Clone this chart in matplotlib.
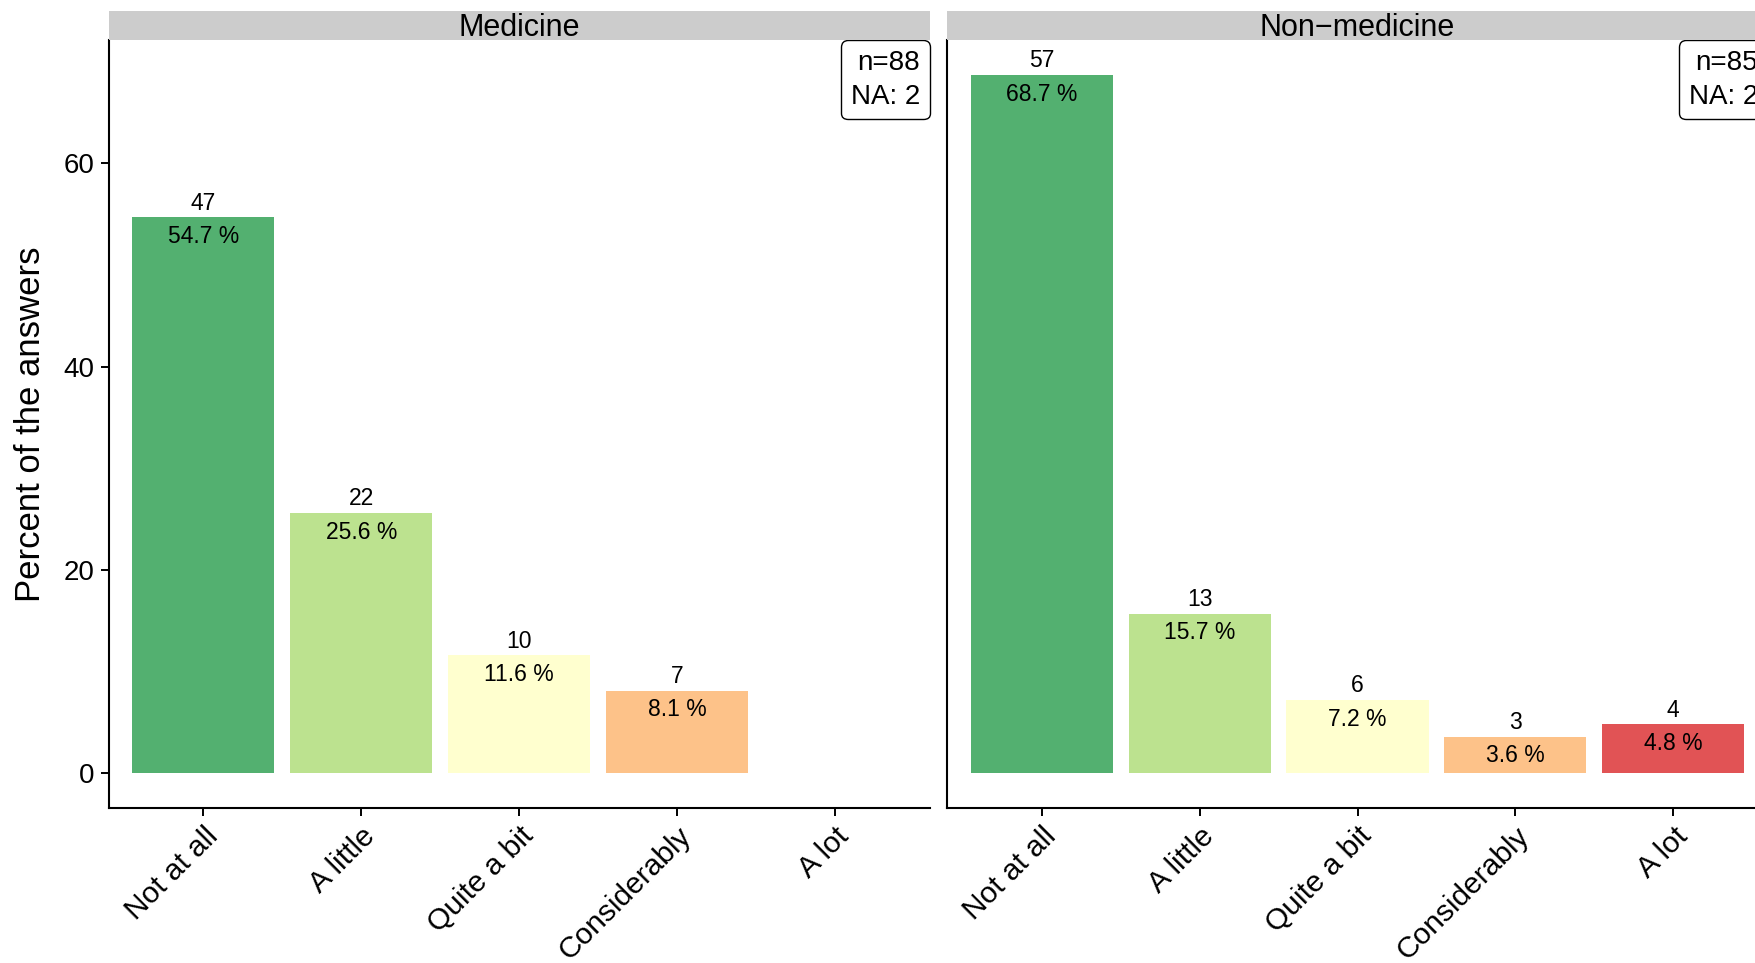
import matplotlib
matplotlib.use("Agg")
import matplotlib.pyplot as plt
from matplotlib.offsetbox import AnchoredText

plt.rcParams['font.family'] = ['Liberation Sans', 'DejaVu Sans']

categories = ["Not at all", "A little", "Quite a bit", "Considerably", "A lot"]
panels = ["Medicine", "Non\u2212medicine"]
counts = {
    "Medicine": [47, 22, 10, 7, 0],
    "Non\u2212medicine": [57, 13, 6, 3, 4],
}
percents = {
    "Medicine": [54.7, 25.6, 11.6, 8.1, 0.0],
    "Non\u2212medicine": [68.7, 15.7, 7.2, 3.6, 4.8],
}
n_labels = {"Medicine": "n=88\nNA: 2", "Non\u2212medicine": "n=85\nNA: 2"}
# RdYlGn (5) at alpha 0.75 on white
colors = ["#53b070", "#bce28f", "#ffffcf", "#fdc289", "#e15355"]

W, H = 1756, 963
fig = plt.figure(figsize=(W / 100, H / 100), dpi=100)

lefts = [108.6, 947.0]
pw = 821
top, bottom = 40, 808
strip_top = 11
ymax = max(max(v) for v in percents.values())

for i, name in enumerate(panels):
    ax = fig.add_axes([lefts[i] / W, (H - bottom) / H, pw / W, (bottom - top) / H])
    x = list(range(1, len(categories) + 1))
    ax.bar(x, percents[name], width=0.9, color=colors)
    for xi, c, p in zip(x, counts[name], percents[name]):
        if c == 0:
            continue
        ax.annotate(str(c), (xi, p), xytext=(0, 5.5), textcoords="offset points",
                    ha="center", va="baseline", fontsize=16.5)
        ax.annotate(f"{p:.1f} %", (xi, p), xytext=(0, -5.5), textcoords="offset points",
                    ha="center", va="top", fontsize=16.5)
    ax.set_xlim(0.4, len(categories) + 0.6)
    ax.set_ylim(-0.05 * ymax, 1.05 * ymax)
    ax.set_xticks(x)
    ax.set_xticklabels(categories, rotation=45, ha="right", va="top",
                       rotation_mode="anchor", fontsize=21.5)
    ax.set_yticks([0, 20, 40, 60])
    for s in ["top", "right"]:
        ax.spines[s].set_visible(False)
    for s in ["left", "bottom"]:
        ax.spines[s].set_linewidth(1.5)
    ax.tick_params(axis="both", length=6, width=1.4, color="black", pad=4)
    if i == 0:
        ax.tick_params(axis="y", labelsize=20)
        ax.set_ylabel("Percent of the answers", fontsize=25, labelpad=12)
    else:
        ax.tick_params(axis="y", left=False, labelleft=False)

    at = AnchoredText(n_labels[name], loc="upper right", borderpad=0, pad=0.35,
                      frameon=True, prop=dict(fontsize=20, multialignment="right",
                                              linespacing=1.4))
    at.patch.set_boxstyle("round,pad=0,rounding_size=0.25")
    at.patch.set_linewidth(1.0)
    ax.add_artist(at)

    sax = fig.add_axes([lefts[i] / W, (H - top) / H, pw / W, (top - strip_top) / H])
    sax.set_facecolor("#cccccc")
    sax.set_xticks([])
    sax.set_yticks([])
    for s in sax.spines.values():
        s.set_visible(False)
    sax.text(0.5, 0.42, name, ha="center", va="center", fontsize=22,
             transform=sax.transAxes)

fig.savefig("out.png", dpi=100)
